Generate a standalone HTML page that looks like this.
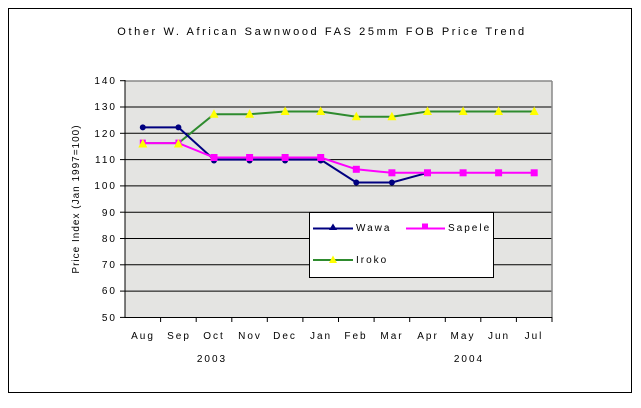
<!DOCTYPE html>
<html><head><style>
body{margin:0;background:#fff;}
svg text{font-family:"Liberation Sans",Arial,sans-serif;font-size:10px;letter-spacing:2px;fill:#000;}
</style></head><body>
<svg width="641" height="403" xmlns="http://www.w3.org/2000/svg">
<defs>
<polygon id="tri" points="0,-5 4.5,3.5 -4.5,3.5" fill="#ffff00"/>
</defs>
<rect x="0" y="0" width="641" height="403" fill="#fff"/>
<rect x="8.5" y="8.5" width="623" height="384" fill="none" stroke="#000" stroke-width="1"/>
<text x="322" y="35" text-anchor="middle" style="font-size:11px;letter-spacing:2.6px">Other W. African Sawnwood FAS 25mm FOB Price Trend</text>
<rect x="125" y="80.7" width="427" height="236.7" fill="#e4e4e2"/>
<g stroke="#000" stroke-width="1">
<line x1="125" x2="552" y1="107.0" y2="107.0"/>
<line x1="125" x2="552" y1="133.3" y2="133.3"/>
<line x1="125" x2="552" y1="159.6" y2="159.6"/>
<line x1="125" x2="552" y1="185.9" y2="185.9"/>
<line x1="125" x2="552" y1="212.2" y2="212.2"/>
<line x1="125" x2="552" y1="238.5" y2="238.5"/>
<line x1="125" x2="552" y1="264.8" y2="264.8"/>
<line x1="125" x2="552" y1="291.1" y2="291.1"/>
</g>
<line x1="125" x2="552" y1="81" y2="81" stroke="#888" stroke-width="1.5"/>
<line x1="552" x2="552" y1="81" y2="317" stroke="#888" stroke-width="1.5"/>
<line x1="125" x2="125" y1="80" y2="318" stroke="#000"/>
<line x1="125" x2="552" y1="317.5" y2="317.5" stroke="#000"/>
<g stroke="#000">
<line x1="120" x2="125" y1="80.7" y2="80.7"/><line x1="120" x2="125" y1="107" y2="107"/>
<line x1="120" x2="125" y1="133.3" y2="133.3"/><line x1="120" x2="125" y1="159.6" y2="159.6"/>
<line x1="120" x2="125" y1="185.9" y2="185.9"/><line x1="120" x2="125" y1="212.2" y2="212.2"/>
<line x1="120" x2="125" y1="238.5" y2="238.5"/><line x1="120" x2="125" y1="264.8" y2="264.8"/>
<line x1="120" x2="125" y1="291.1" y2="291.1"/><line x1="120" x2="125" y1="317.4" y2="317.4"/>
</g>
<g text-anchor="end">
<text x="117" y="84">140</text><text x="117" y="110">130</text><text x="117" y="137">120</text>
<text x="117" y="163">110</text><text x="117" y="189">100</text><text x="117" y="216">90</text>
<text x="117" y="242">80</text><text x="117" y="268">70</text><text x="117" y="294">60</text>
<text x="117" y="321">50</text>
</g>
<text transform="translate(79,199) rotate(-90)" text-anchor="middle" style="letter-spacing:1px">Price Index (Jan 1997=100)</text>
<g stroke="#000">
<line x1="160.6" x2="160.6" y1="317" y2="322"/><line x1="196.2" x2="196.2" y1="317" y2="322"/>
<line x1="231.8" x2="231.8" y1="317" y2="322"/><line x1="267.3" x2="267.3" y1="317" y2="322"/>
<line x1="302.9" x2="302.9" y1="317" y2="322"/><line x1="338.5" x2="338.5" y1="317" y2="322"/>
<line x1="374.1" x2="374.1" y1="317" y2="322"/><line x1="409.7" x2="409.7" y1="317" y2="322"/>
<line x1="445.3" x2="445.3" y1="317" y2="322"/><line x1="480.8" x2="480.8" y1="317" y2="322"/>
<line x1="516.4" x2="516.4" y1="317" y2="322"/><line x1="552" x2="552" y1="317" y2="322"/>
</g>
<g text-anchor="middle">
<text x="143" y="339">Aug</text><text x="179" y="339">Sep</text><text x="214" y="339">Oct</text>
<text x="250" y="339">Nov</text><text x="285" y="339">Dec</text><text x="321" y="339">Jan</text>
<text x="356" y="339">Feb</text><text x="392" y="339">Mar</text><text x="428" y="339">Apr</text>
<text x="463" y="339">May</text><text x="499" y="339">Jun</text><text x="534" y="339">Jul</text>
<text x="212" y="362">2003</text><text x="469" y="362">2004</text>
</g>
<!-- Iroko -->
<polyline fill="none" stroke="#2e8b2e" stroke-width="2" points="142.8,143.1 178.4,143.1 214,114.2 249.6,114.2 285.1,111.5 320.7,111.5 356.3,116.8 391.9,116.8 427.5,111.5 463.1,111.5 498.6,111.5 534.2,111.5"/>
<use href="#tri" x="214" y="114.2"/><use href="#tri" x="249.6" y="114.2"/>
<use href="#tri" x="285.1" y="111.5"/><use href="#tri" x="320.7" y="111.5"/>
<use href="#tri" x="356.3" y="116.8"/><use href="#tri" x="391.9" y="116.8"/>
<use href="#tri" x="427.5" y="111.5"/><use href="#tri" x="463.1" y="111.5"/>
<use href="#tri" x="498.6" y="111.5"/><use href="#tri" x="534.2" y="111.5"/>
<!-- Wawa -->
<polyline fill="none" stroke="#000080" stroke-width="2" points="142.8,127.4 178.4,127.4 214,159.6 249.6,159.6 285.1,159.6 320.7,159.6 356.3,182.5 391.9,182.5 427.5,172.8"/>
<g fill="#000080">
<circle cx="142.8" cy="127.4" r="3"/><circle cx="178.4" cy="127.4" r="3"/><circle cx="214" cy="160.5" r="3"/>
<circle cx="249.6" cy="160.5" r="3"/><circle cx="285.1" cy="160.5" r="3"/><circle cx="320.7" cy="160.5" r="3"/>
<circle cx="356.3" cy="182.5" r="3"/><circle cx="391.9" cy="182.5" r="3"/><circle cx="427.5" cy="172.8" r="3"/>
</g>
<!-- Sapele -->
<polyline fill="none" stroke="#ff00ff" stroke-width="2" points="142.8,143.1 178.4,143.1 214,157.5 249.6,157.5 285.1,157.5 320.7,157.5 356.3,169.3 391.9,172.8 427.5,172.8 463.1,172.8 498.6,172.8 534.2,172.8"/>
<g fill="#ff00ff">
<rect x="210.5" y="154" width="7" height="7"/><rect x="246.1" y="154" width="7" height="7"/>
<rect x="281.6" y="154" width="7" height="7"/><rect x="317.2" y="154" width="7" height="7"/>
<rect x="352.8" y="165.8" width="7" height="7"/><rect x="388.4" y="169.3" width="7" height="7"/>
<rect x="424" y="169.3" width="7" height="7"/><rect x="459.6" y="169.3" width="7" height="7"/>
<rect x="495.1" y="169.3" width="7" height="7"/><rect x="530.7" y="169.3" width="7" height="7"/>
<rect x="139.8" y="139.6" width="6" height="7"/><rect x="175.4" y="139.6" width="6" height="7"/>
</g>
<use href="#tri" x="142.8" y="144"/><use href="#tri" x="178.4" y="144"/>
<!-- Legend -->
<rect x="309.5" y="212.5" width="184" height="65" fill="#fff" stroke="#000"/>
<line x1="313" x2="353" y1="228.5" y2="228.5" stroke="#000080" stroke-width="2"/>
<polygon points="333,223.5 337,230 329,230" fill="#000080"/>
<text x="356" y="231">Wawa</text>
<line x1="406" x2="445" y1="228.5" y2="228.5" stroke="#ff00ff" stroke-width="2"/>
<rect x="422" y="223.5" width="6" height="5.5" fill="#ff00ff"/>
<text x="448" y="231">Sapele</text>
<line x1="313" x2="353" y1="260" y2="260" stroke="#2e8b2e" stroke-width="2"/>
<polygon points="333,255.5 337,263 329,263" fill="#ffff00"/>
<text x="356" y="263">Iroko</text>
</svg>
</body></html>
